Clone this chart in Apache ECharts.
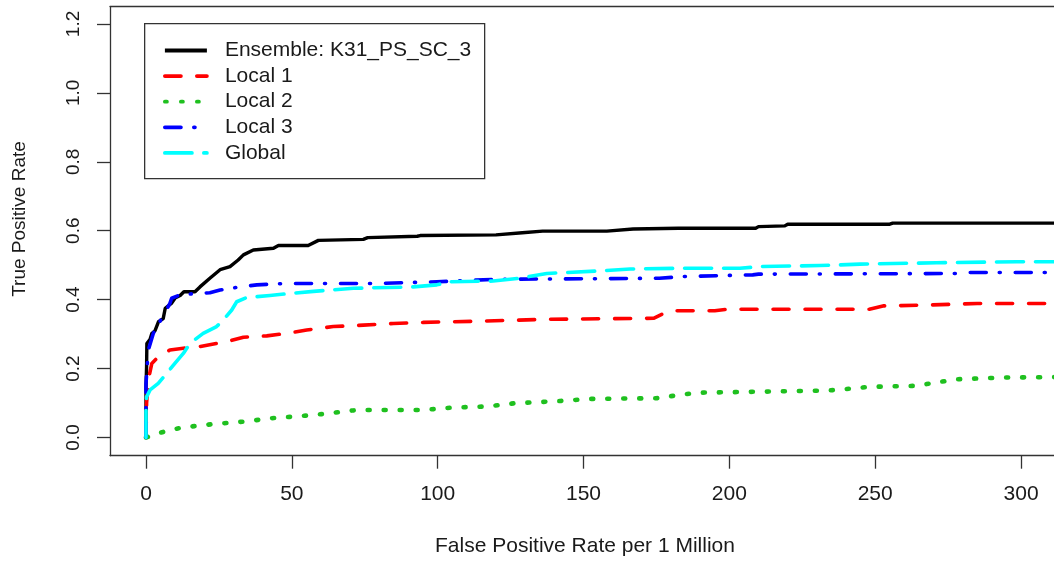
<!DOCTYPE html>
<html>
<head>
<meta charset="utf-8">
<script src="https://cdn.jsdelivr.net/npm/echarts@6/dist/echarts.min.js"></script>
<style>
html,body{margin:0;padding:0;background:#fff;}
#chart{width:1054px;height:561px;}
</style>
</head>
<body>
<div id="chart"></div>
<script>
// ---- data ----
var seriesNames = ["Ensemble: K31_PS_SC_3", "Local 1", "Local 2", "Local 3", "Global"];
var xTicks = [0, 50, 100, 150, 200, 250, 300];
var yTicks = [0, 0.2, 0.4, 0.6, 0.8, 1.0, 1.2];
var xTitle = "False Positive Rate per 1 Million";
var yTitle = "True Positive Rate";

var ensembleData = [[0,0],[0,0.04],[0,0.147],[0.2,0.205],[0.3,0.273],[1.4,0.285],[2,0.302],[3.1,0.31],[4.3,0.336],[5.9,0.345],[6.6,0.375],[8.8,0.39],[10,0.405],[11.7,0.412],[13,0.423],[16.8,0.423],[18.5,0.437],[21.9,0.462],[25.4,0.487],[28.8,0.496],[31.6,0.515],[33.4,0.53],[36.8,0.544],[43.7,0.549],[45.4,0.557],[55.6,0.557],[59.1,0.572],[74.5,0.575],[76,0.58],[93,0.584],[94,0.586],[120,0.588],[129,0.594],[136,0.599],[158,0.599],[167,0.605],[182.5,0.607],[209,0.607],[210,0.612],[219,0.614],[220,0.619],[255,0.619],[256,0.622],[320,0.622]];
var local1Data = [[0,0],[0.2,0.1],[0.8,0.167],[2,0.215],[4.2,0.234],[8.2,0.254],[12.8,0.259],[18.5,0.264],[24.2,0.273],[27.7,0.278],[33.4,0.291],[41.4,0.295],[48.2,0.302],[55.1,0.312],[64.2,0.322],[74.5,0.326],[84.8,0.331],[95.1,0.334],[116.8,0.338],[137.4,0.343],[174,0.346],[178,0.362],[181,0.368],[195,0.368],[199,0.372],[248,0.372],[253,0.382],[267,0.384],[285,0.389],[320,0.389]];
var local2Data = [[0,0],[4.2,0.012],[8.2,0.022],[13.4,0.03],[23.1,0.039],[33.4,0.046],[43.1,0.056],[52.8,0.062],[63.1,0.07],[68.8,0.077],[73.4,0.08],[95.1,0.08],[105.4,0.087],[116.8,0.09],[126,0.099],[142,0.106],[152.2,0.112],[175,0.114],[180,0.12],[188.8,0.13],[233,0.136],[238,0.139],[248,0.147],[264,0.15],[269,0.157],[278,0.169],[294,0.174],[320,0.176]];
var local3Data = [[0,0],[0,0.157],[0.8,0.254],[2.5,0.302],[5.4,0.346],[8.2,0.389],[8.8,0.404],[11.7,0.414],[17.4,0.418],[21.9,0.42],[25.4,0.428],[32.2,0.437],[38,0.443],[48.2,0.447],[80,0.447],[99.7,0.452],[120,0.459],[176,0.462],[184,0.467],[208,0.472],[210,0.474],[279,0.476],[282.5,0.479],[320,0.479]];
var globalData = [[0,0],[0,0.08],[0.2,0.118],[1.4,0.138],[4.2,0.157],[7.1,0.186],[9.9,0.215],[12.8,0.244],[15.1,0.273],[19.6,0.302],[24.2,0.322],[26.5,0.341],[29.4,0.37],[31.1,0.394],[34.5,0.406],[42.5,0.412],[49.4,0.418],[57.4,0.424],[71.1,0.433],[91.6,0.437],[99.7,0.443],[104.2,0.452],[119,0.454],[128,0.462],[137.4,0.476],[154.5,0.483],[166,0.489],[183,0.491],[203.6,0.491],[210.5,0.496],[231,0.499],[244.8,0.503],[271,0.507],[298.5,0.51],[320,0.51]];

// ---- chart ----
var FONT = '"Liberation Sans", Arial, sans-serif';
var TXT = '#1a1a1a';
var AX = '#333';
var chart = echarts.init(document.getElementById('chart'), null, {renderer: 'canvas'});

function mk(name, data, color, width, dash, cap, z) {
  return {
    name: name, type: 'line', data: data, showSymbol: false, symbol: 'none',
    lineStyle: {color: color, width: width, type: dash, cap: cap, join: 'round'},
    itemStyle: {color: color}, z: z, animation: false
  };
}

chart.setOption({
  animation: false,
  backgroundColor: '#fff',
  grid: {left: 110, right: 0, top: 6.7, bottom: 105.3, show: false},
  xAxis: [{
    type: 'value', min: -12.34, max: 311.3,
    axisLine: {show: true, onZero: false, lineStyle: {color: AX, width: 1.3}},
    splitLine: {show: false},
    axisTick: {show: true, length: 13, lineStyle: {color: AX, width: 1.3}, customValues: xTicks},
    axisLabel: {show: true, margin: 28, fontSize: 21, color: TXT, fontFamily: FONT, customValues: xTicks,
      formatter: function (v) { return String(v); }}
  }, {
    type: 'value', position: 'top', min: -12.34, max: 311.3,
    axisLine: {show: true, onZero: false, lineStyle: {color: AX, width: 1.3}},
    splitLine: {show: false}, axisTick: {show: false}, axisLabel: {show: false}
  }],
  yAxis: {
    type: 'value', min: -0.0528, max: 1.2501,
    axisLine: {show: true, onZero: false, lineStyle: {color: AX, width: 1.3}},
    splitLine: {show: false},
    axisTick: {show: true, length: 13, lineStyle: {color: AX, width: 1.3}, customValues: yTicks},
    axisLabel: {show: true, rotate: 90, margin: 27, fontSize: 19, color: TXT, fontFamily: FONT, customValues: yTicks,
      formatter: function (v) { return v.toFixed(1); }}
  },
  legend: {
    left: 163, top: 40, orient: 'vertical', padding: 0,
    itemWidth: 42, itemHeight: 14, itemGap: 4.6,
    itemStyle: {opacity: 0, borderWidth: 0},
    lineStyle: {width: 3.8},
    textStyle: {fontSize: 21, color: TXT, fontFamily: FONT, lineHeight: 21, padding: [0, 0, 0, 13]},
    data: seriesNames
  },
  graphic: [
    {type: 'rect', left: 144, top: 23, shape: {width: 340, height: 155}, style: {fill: '#fff', stroke: AX, lineWidth: 1.3}, z: 1},
    {type: 'text', x: 20, y: 219, rotation: Math.PI / 2,
      style: {text: yTitle, fontSize: 19, fontFamily: FONT, fill: TXT, align: 'center', verticalAlign: 'middle'}},
    {type: 'text', x: 585, y: 546,
      style: {text: xTitle, fontSize: 21, fontFamily: FONT, fill: TXT, align: 'center', verticalAlign: 'middle'}}
  ],
  series: [
    mk(seriesNames[0], ensembleData, '#000000', 3.4, 'solid', 'butt', 5),
    mk(seriesNames[1], local1Data, '#ff0000', 3.6, [16, 16], 'round', 6),
    mk(seriesNames[2], local2Data, '#1fc01f', 4.6, [2, 14], 'round', 6),
    mk(seriesNames[3], local3Data, '#0000ff', 3.6, [16, 13, 1, 15], 'round', 7),
    mk(seriesNames[4], globalData, '#00ffff', 3.6, [27, 12], 'round', 8)
  ]
});
</script>
</body>
</html>
